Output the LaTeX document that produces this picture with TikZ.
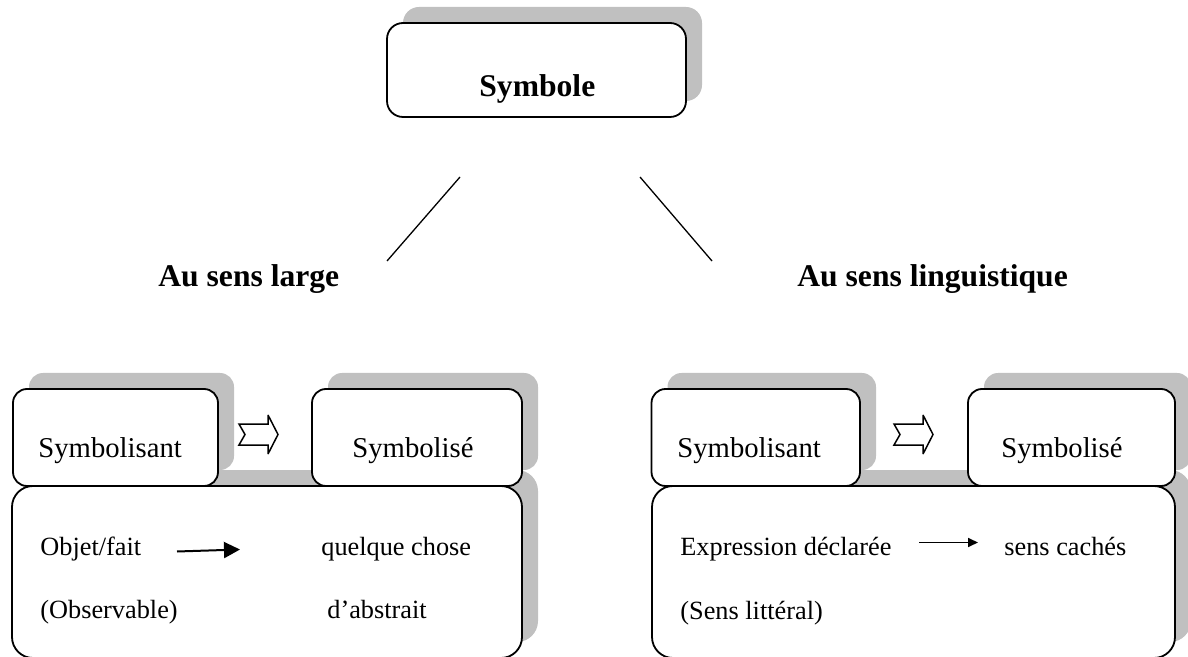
\documentclass[tikz,border=0pt]{standalone}
\usepackage{fontspec}
\setmainfont{Liberation Serif}
\usetikzlibrary{arrows.meta,shadows}
\definecolor{shade}{HTML}{C0C0C0}
\tikzset{
  % Rounded boxes with grey offset shadow
  box/.style={draw=black,line width=0.9pt,fill=white,rounded corners=7pt,
              inner sep=0pt,minimum height=48.5pt,
              drop shadow={shadow xshift=8pt,shadow yshift=8pt,fill=shade,opacity=1}},
  bigbox/.style={box,rounded corners=10.5pt,minimum height=86pt},
  % Texts
  titre/.style={font=\fontsize{15.8}{18}\selectfont\bfseries,inner sep=0pt,anchor=base west},
  lab/.style={font=\fontsize{14.35}{17}\selectfont,inner sep=0pt,anchor=base west},
  txt/.style={font=\fontsize{13.15}{16}\selectfont,inner sep=0pt,anchor=base west},
  % Connectors
  ln/.style={line width=0.65pt},
  fl/.style={-{Triangle[length=8pt,width=8pt]},line width=1pt},
  fl2/.style={-{Triangle[length=5pt,width=4.5pt]},line width=0.85pt},
  hollow/.pic={\draw[line width=0.75pt,miter limit=4]
    (0,-10.5) -- (29,-10.5) -- (29,-19.5) -- (39,0) -- (29,19.5)
    -- (29,10.5) -- (0,10.5) -- (6,0) -- cycle;}
}
\begin{document}
\begin{tikzpicture}[x=0.5pt,y=-0.5pt]
  \useasboundingbox (0,0) rectangle (1188,657);

  % Top box
  \node[box,rounded corners=8pt,minimum width=149.5pt,minimum height=47pt] (symb) at (536.5,70) {};
  \node[titre] (t0) at (479,96.7) {Symbole};

  % Branches
  \coordinate (a1) at (460,177);
  \coordinate (a2) at (387,261);
  \coordinate (b1) at (640,177);
  \coordinate (b2) at (712,261);
  \draw[ln] (a1) -- (a2);
  \draw[ln] (b1) -- (b2);
  \node[titre] (tl) at (158,287) {Au sens large};
  \node[titre] (tr) at (797,287) {Au sens linguistique};

  % Left group
  \node[bigbox,minimum width=255pt] (lbig) at (267,572) {};
  \node[box,minimum width=102.5pt] (lsa) at (115.5,437.5) {};
  \node[box,minimum width=105pt] (lse) at (417,437.5) {};
  \pic at (239,434.5) {hollow};
  \node[lab] (l1) at (38,458) {Symbolisant};
  \node[lab] (l2) at (352,458) {Symbolisé};
  \node[txt] (l3) at (40,555) {Objet/fait};
  \node[txt] (l4) at (321,555) {quelque chose};
  \node[txt] (l5) at (40,618) {(Observable)};
  \node[txt] (l6) at (327,618) {d’abstrait};
  \coordinate (f1) at (177,551.5);
  \coordinate (f2) at (240,549.5);
  \draw[fl] (f1) -- (f2);

  % Right group
  \node[bigbox,minimum width=261.5pt] (rbig) at (913.5,572) {};
  \node[box,minimum width=104.25pt] (rsa) at (755.75,437.5) {};
  \node[box,minimum width=103.5pt] (rse) at (1071.5,437.5) {};
  \pic at (894,434.5) {hollow};
  \node[lab] (r1) at (677,458) {Symbolisant};
  \node[lab] (r2) at (1001,458) {Symbolisé};
  \node[txt] (r3) at (680,555) {Expression déclarée};
  \node[txt] (r4) at (1004,555) {sens cachés};
  \node[txt] (r5) at (680,619) {(Sens littéral)};
  \coordinate (g1) at (919,542.5);
  \coordinate (g2) at (978,542.5);
  \draw[fl2] (g1) -- (g2);
\end{tikzpicture}
\end{document}
